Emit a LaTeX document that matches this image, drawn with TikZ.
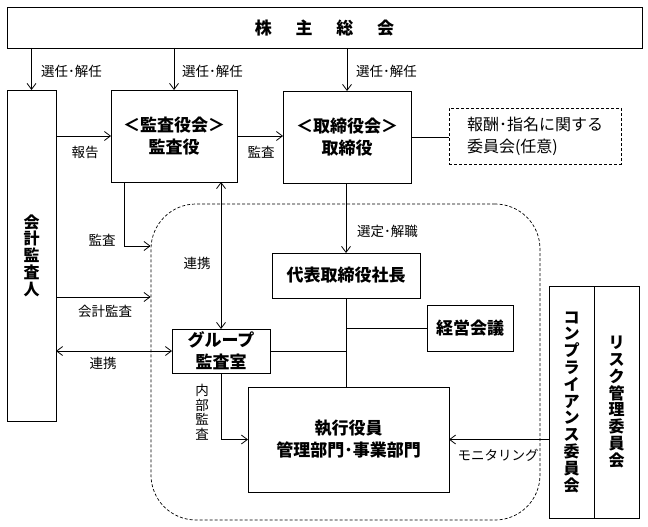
\documentclass[tikz,border=0pt]{standalone}
\usepackage{fontspec}
\setmainfont{Noto Sans CJK JP}
\usetikzlibrary{positioning}
\usetikzlibrary{arrows.meta}

\begin{document}
\begin{tikzpicture}[
        x=1pt, y=-1pt,
        box/.style={draw, line width=0.9pt, inner sep=0pt, outer sep=0pt, align=center,
            font=\fontsize{17}{22}\selectfont\bfseries},
        vbox/.style={box, font=\fontsize{16}{16.8}\selectfont\bfseries},
        dbox/.style={box, dash pattern=on 3pt off 2pt, align=left,
            font=\fontsize{16}{22}\selectfont},
        region/.style={draw, line width=0.7pt, dash pattern=on 3pt off 2pt, rounded corners=45pt},
        lbl/.style={inner sep=0pt, font=\fontsize{13.5}{14.5}\selectfont},
        arr/.style={-{Straight Barb[length=6pt,width=9pt]}, line width=0.8pt},
        darr/.style={{Straight Barb[length=6pt,width=9pt]}-{Straight Barb[length=6pt,width=9pt]}, line width=0.8pt},
        line/.style={line width=0.8pt},
    ]
        \useasboundingbox (0,0) rectangle (648,527);

        % Execution area
        \node[region, minimum width=389pt, minimum height=316pt] (execarea) at (345.5,362) {};

        % Boxes
        \node[box, minimum width=635pt, minimum height=41pt] (meeting) at (324.5,27.5) {株\hspace{1.4em}主\hspace{1.4em}総\hspace{1.4em}会};
        \node[vbox, minimum width=49pt, minimum height=331pt] (auditor) at (31.5,255.5) {会\\計\\監\\査\\人};
        \node[box, minimum width=126pt, minimum height=92pt] (board) at (174,136) {＜監査役会＞\\監査役};
        \node[box, minimum width=128pt, minimum height=92pt] (directors) at (347,137) {＜取締役会＞\\取締役};
        \node[dbox, minimum width=172pt, minimum height=56pt] (committee) at (535,136) {報酬･指名に関する\\委員会(任意)};
        \node[box, minimum width=148pt, minimum height=45pt] (president) at (346,275.5) {代表取締役社長};
        \node[box, minimum width=86pt, minimum height=46pt] (council) at (470,328) {経営会議};
        \node[box, minimum width=98pt, minimum height=44pt] (internal) at (221,351) {グループ\\監査室};
        \node[box, minimum width=201pt, minimum height=105pt] (officers) at (348.5,439.5) {執行役員\\管理部門･事業部門};
        \node[vbox, minimum width=45pt, minimum height=232pt] (compliance) at (571.5,402) {コ\\ン\\プ\\ラ\\イ\\ア\\ン\\ス\\委\\員\\会};
        \node[vbox, minimum width=45pt, minimum height=232pt] (risk) at (616.5,402) {リ\\ス\\ク\\管\\理\\委\\員\\会};

        % Labels
        \node[lbl, anchor=west] (elect1) at (41,71) {選任･解任};
        \node[lbl, anchor=west] (elect2) at (182,71) {選任･解任};
        \node[lbl, anchor=west] (elect3) at (356,71) {選任･解任};
        \node[lbl] (report) at (85,152) {報告};
        \node[lbl] (audit1) at (261,152) {監査};
        \node[lbl] (audit2) at (102,240) {監査};
        \node[lbl] (link1) at (197,263) {連携};
        \node[lbl, anchor=west] (appoint) at (357,231) {選定･解職};
        \node[lbl] (acct) at (105,311) {会計監査};
        \node[lbl] (link2) at (103,363) {連携};
        \node[lbl, align=center] (inaudit) at (202,412) {内\\部\\監\\査};
        \node[lbl] (monitor) at (498,455) {モニタリング};

        % Edges
        \draw[arr] (meeting.south -| auditor.north) -- (auditor.north);
        \draw[arr] (meeting.south -| board.north) -- (board.north);
        \draw[arr] (meeting.south -| directors.north) -- (directors.north);
        \draw[arr] (auditor.east |- board.west) -- (board.west);
        \draw[arr] (board.east) -- (board.east -| directors.west);
        \draw[line] (directors.east) -- (directors.east -| committee.west);
        \draw[arr] (board.south -| 124,0) |- (execarea.west |- 0,246);
        \draw[darr] (internal.north |- board.south) -- (internal.north);
        \draw[arr] (president.north |- directors.south) -- (president.north);
        \draw[arr] (auditor.east |- 0,297) -- (execarea.west |- 0,297);
        \draw[darr] (auditor.east |- internal.west) -- (internal.west);
        \draw[line] (president.south) -- (president.south |- officers.north);
        \draw[line] (president.south |- council.west) -- (council.west);
        \draw[line] (internal.east) -- (internal.east -| president.south);
        \draw[arr] (internal.south) |- (officers.west);
        \draw[arr] (compliance.west |- officers.east) -- (officers.east);

    \end{tikzpicture}
\end{document}
